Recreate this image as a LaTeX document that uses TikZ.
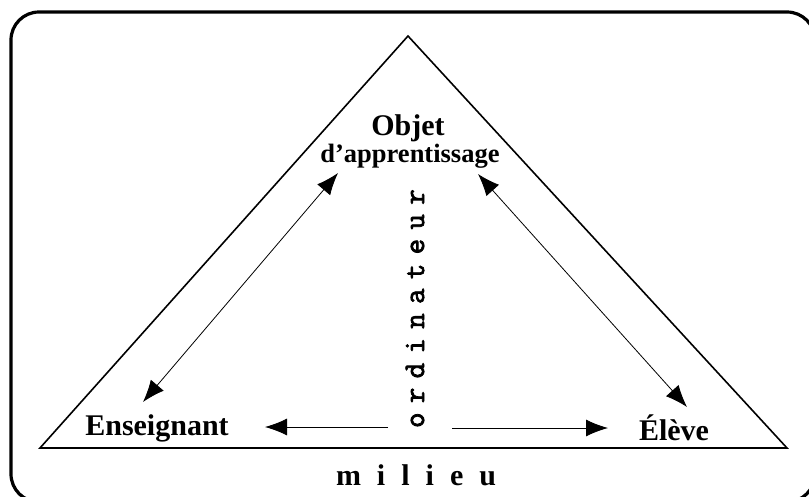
\documentclass[tikz,border=0pt]{standalone}
\usepackage{fontspec}
\setmainfont{Liberation Serif}
\newfontfamily\ordifont[FakeBold=2.5]{Latin Modern Mono}
\usetikzlibrary{arrows.meta}

\begin{document}
\begin{tikzpicture}[x=1pt,y=-1pt,
  titre/.style={font=\bfseries\fontsize{30}{36}\selectfont, anchor=base, inner sep=0pt},
  soustitre/.style={font=\bfseries\fontsize{26.5}{32}\selectfont, anchor=base, inner sep=0pt},
  lettre/.style={font=\ordifont\fontsize{30}{36}\selectfont, rotate=90, anchor=base, inner sep=0pt},
  fleche/.style={line width=0.8pt, -{Latex[length=22pt,width=17pt]}},
  fleches/.style={line width=0.8pt, {Latex[length=22pt,width=17pt]}-{Latex[length=22pt,width=17pt]}}]
\useasboundingbox (0,0) rectangle (809,496);
%frame
\draw[line width=3.2pt, rounded corners=28pt] (11,12) rectangle (815,502);
%triangle
\draw[line width=1.6pt] (408,36) -- (787,448) -- (40,448) -- cycle;
%poles
\node[titre] (objet) at (408,135) {Objet};
\node[soustitre] (appr) at (410,162) {d’apprentissage};
\node[titre] (ens) at (157,435) {Enseignant};
\node[titre] (eleve) at (674,440) {Élève};
\node[titre] (milieu) at (416,485) {m\hspace{16pt}i\hspace{16pt}l\hspace{16pt}i\hspace{16pt}e\hspace{16pt}u};
%ordinateur
\foreach \c [count=\i] in {o,r,d,i,n,a,t,e,u,r}
  \node[lettre] (ordi\i) at (424,445-24.8*\i) {\c};
%arrows
\coordinate (o-ens) at (338,173);
\coordinate (ens-o) at (143,402);
\coordinate (o-el) at (478,174);
\coordinate (el-o) at (687,407);
\coordinate (ordi-g) at (388,427);
\coordinate (ordi-d) at (452,428);
\coordinate (ens-h) at (265,427);
\coordinate (el-h) at (608,428);
\draw[fleches] (o-ens) -- (ens-o);
\draw[fleches] (o-el) -- (el-o);
\draw[fleche] (ordi-g) -- (ens-h);
\draw[fleche] (ordi-d) -- (el-h);
\end{tikzpicture}
\end{document}
